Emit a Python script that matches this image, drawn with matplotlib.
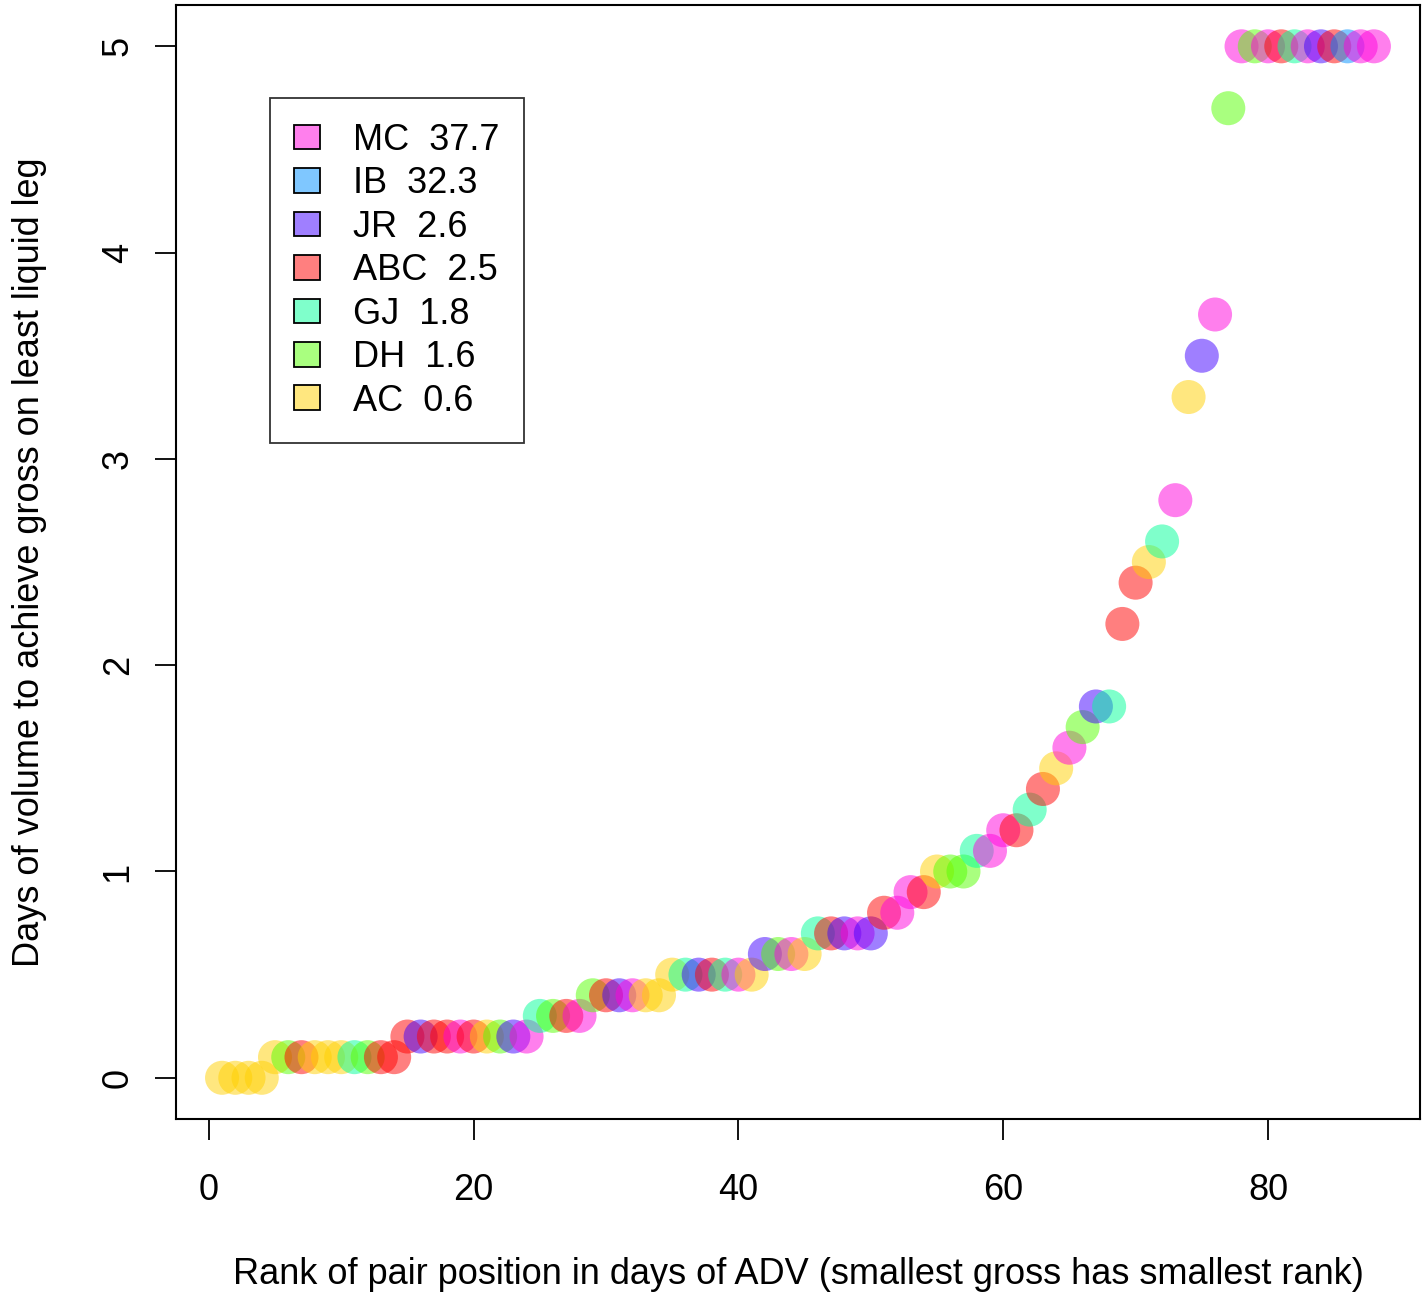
import numpy as np
import matplotlib
matplotlib.use("Agg")
import matplotlib.pyplot as plt
from matplotlib.patches import Patch

plt.rcParams["font.family"] = ["Liberation Sans", "DejaVu Sans"]

# legend groups (name, share) and their colours
groups = ["MC", "IB", "JR", "ABC", "GJ", "DH", "AC"]
shares = [37.7, 32.3, 2.6, 2.5, 1.8, 1.6, 0.6]
group_colors = ["#FF00DD", "#0090FF", "#4000FF", "#FF0000", "#00FF99", "#55FF00", "#FFD000"]

# days of volume, one per ranked pair (rank = 1..88)
days = [0.0, 0.0, 0.0, 0.0,
        0.1, 0.1, 0.1, 0.1, 0.1, 0.1, 0.1, 0.1, 0.1, 0.1,
        0.2, 0.2, 0.2, 0.2, 0.2, 0.2, 0.2, 0.2, 0.2, 0.2,
        0.3, 0.3, 0.3, 0.3,
        0.4, 0.4, 0.4, 0.4, 0.4, 0.4,
        0.5, 0.5, 0.5, 0.5, 0.5, 0.5, 0.5,
        0.6, 0.6, 0.6, 0.6,
        0.7, 0.7, 0.7, 0.7, 0.7,
        0.8, 0.8,
        0.9, 0.9,
        1.0, 1.0, 1.0,
        1.1, 1.1,
        1.2, 1.2,
        1.3, 1.4, 1.5, 1.6, 1.7, 1.8, 1.8,
        2.2, 2.4, 2.5, 2.6, 2.8, 3.3, 3.5, 3.7, 4.7,
        5.0, 5.0, 5.0, 5.0, 5.0, 5.0, 5.0, 5.0, 5.0, 5.0, 5.0]

# owner of each ranked pair
owner = ["AC", "AC", "AC", "AC",
         "AC", "DH", "ABC", "AC", "AC", "AC", "GJ", "DH", "ABC", "ABC",
         "ABC", "JR", "ABC", "ABC", "MC", "ABC", "AC", "DH", "JR", "MC",
         "GJ", "DH", "ABC", "MC",
         "DH", "ABC", "JR", "MC", "AC", "AC",
         "AC", "GJ", "JR", "ABC", "GJ", "MC", "AC",
         "JR", "DH", "MC", "AC",
         "GJ", "ABC", "JR", "MC", "JR",
         "ABC", "MC",
         "MC", "ABC",
         "AC", "DH", "DH",
         "GJ", "MC",
         "MC", "ABC",
         "GJ", "ABC", "AC", "MC", "DH", "JR", "GJ",
         "ABC", "ABC", "AC", "GJ", "MC", "AC", "JR", "MC", "DH",
         "MC", "DH", "MC", "ABC", "GJ", "MC", "JR", "ABC", "IB", "MC", "MC"]

rank = np.arange(1, len(days) + 1)
cmap = dict(zip(groups, group_colors))
point_colors = [cmap[o] for o in owner]

fig = plt.figure(figsize=(14.26, 12.97), dpi=100)
ax = fig.add_axes([0.1234, 0.1372, 0.8724, 0.8589])

ax.scatter(rank, days, s=600, c=point_colors, alpha=0.5, linewidths=0)

ax.set_xlim(-2.48, 91.48)
ax.set_ylim(-0.2, 5.2)
ax.set_xticks([0, 20, 40, 60, 80])
ax.set_yticks([0, 1, 2, 3, 4, 5])
ax.tick_params(labelsize=26, length=15, width=1.3)
ax.tick_params(axis="x", pad=24)
ax.tick_params(axis="y", pad=14)
for lbl in ax.get_yticklabels():
    lbl.set_rotation(90)
    lbl.set_va("center")
for sp in ax.spines.values():
    sp.set_linewidth(1.5)

ax.set_xlabel("Rank of pair position in days of ADV (smallest gross has smallest rank)",
              fontsize=26, labelpad=35)
ax.set_ylabel("Days of volume to achieve gross on least liquid leg",
              fontsize=26, labelpad=39)

handles = [Patch(facecolor=matplotlib.colors.to_rgba(c, 0.5), edgecolor="black", linewidth=1.3)
           for c in group_colors]
labels = [f"{g}  {v}" for g, v in zip(groups, shares)]
leg = ax.legend(handles, labels, loc="upper left", bbox_to_anchor=(0.0755, 0.9165),
                fontsize=26, frameon=True, fancybox=False, edgecolor="black",
                handlelength=0.72, handleheight=0.68, handletextpad=0.91,
                labelspacing=0.235, borderpad=0.68, borderaxespad=0)
leg.get_frame().set_linewidth(1.3)

fig.savefig("out.png", dpi=100)
